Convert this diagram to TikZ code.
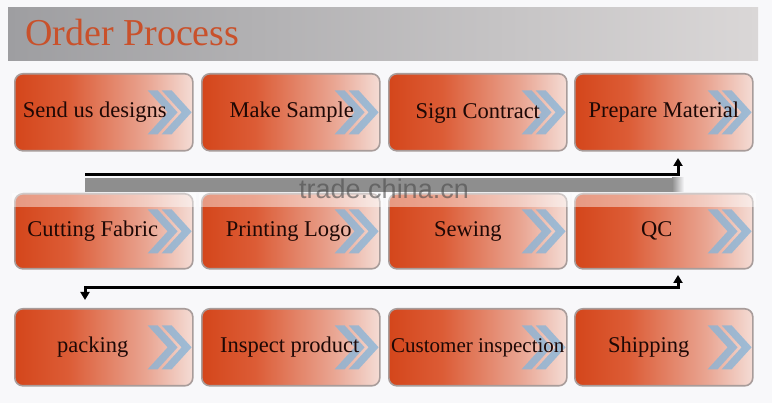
\documentclass[tikz,border=0pt]{standalone}
\usepackage{fontspec}
\setmainfont{Liberation Serif}
\newfontfamily\wmfont{Liberation Sans}
\usetikzlibrary{arrows.meta}
\definecolor{bgc}{HTML}{F8F8FA}
\definecolor{oa}{HTML}{D4461B}
\definecolor{ob}{HTML}{DC5C36}
\definecolor{oc}{HTML}{E9A592}
\definecolor{od}{HTML}{F4DCD5}
\definecolor{ga}{HTML}{9E9EA1}
\definecolor{gb}{HTML}{DAD7D7}
\definecolor{titlec}{HTML}{C9512B}
\definecolor{txtc}{HTML}{1E0805}
\definecolor{chevc}{HTML}{8AB4D6}
\definecolor{boxborder}{HTML}{A89C9A}
\definecolor{bandc}{HTML}{8E8E8E}
\definecolor{wmc}{HTML}{4A4A4A}
\pgfdeclarehorizontalshading{boxshade}{100bp}{color(0bp)=(oa); color(25bp)=(oa); color(40bp)=(ob); color(62bp)=(oc); color(75bp)=(od); color(100bp)=(od)}
\tikzset{
  stepbox/.style={rounded corners=8pt, draw=boxborder, line width=1.6pt, shading=boxshade,
    minimum width=178pt, minimum height=77pt, anchor=north west, inner sep=0pt},
  lbl/.style={text=txtc, font=\fontsize{22.5}{25}\selectfont, inner sep=0pt},
  conn/.style={line width=3pt, black},
  chevfill/.style={fill=chevc, fill opacity=0.8},
  fadeband/.style={fill=white, fill opacity=0.45, draw=none}
}
\newcommand\chevpair[1]{%
  \begin{scope}[shift={(#1.east)}]
    \fill[chevfill] (-46,-22) -- ++(10,0) -- ++(20,22) -- ++(-20,22) -- ++(-10,0) -- ++(20,-22) -- cycle;
    \fill[chevfill] (-32,-22) -- ++(10,0) -- ++(20,22) -- ++(-20,22) -- ++(-10,0) -- ++(20,-22) -- cycle;
  \end{scope}}
\begin{document}
\begin{tikzpicture}[x=1pt,y=-1pt]
\useasboundingbox (0,0) rectangle (772,403);
\fill[bgc] (0,0) rectangle (772,403);
% title bar
\shade[left color=ga, right color=gb, draw=none] (8,8) rectangle (758,61);
\node[anchor=base west, text=titlec, font=\fontsize{38}{40}\selectfont, inner sep=0pt] (title) at (25,46) {Order Process};
% boxes
\foreach \n/\x/\y/\h in {b1/14/73/77, b2/201/73/77, b3/388/73/77, b4/574/73/77,
                          b5/14/193/75, b6/201/193/75, b7/388/193/75, b8/574/193/75,
                          b9/14/308/77, b10/201/308/77, b11/388/308/77, b12/574/308/77}{
  \node[stepbox, minimum height=\h pt] (\n) at (\x,\y) {};
}
\foreach \n in {b1,b2,b3,b4,b5,b6,b7,b8,b9,b10,b11,b12}{\chevpair{\n}}
% washed top of row 2
\foreach \n in {b5,b6,b7,b8}{
  \fill[fadeband] ([xshift=-2pt]\n.north west) rectangle ([xshift=2pt,yshift=-14pt]\n.north east);
}
% labels
\node[lbl] (t1) at ([xshift=-9pt]b1.center) {Send us designs};
\node[lbl] (t2) at ([xshift=1pt]b2.center) {Make Sample};
\node[lbl] (t3) at ([xshift=0pt,yshift=-1pt]b3.center) {Sign Contract};
\node[lbl] (t4) at ([xshift=0pt]b4.center) {Prepare Material};
\node[lbl] (t5) at ([xshift=-11pt]b5.center) {Cutting Fabric};
\node[lbl] (t6) at ([xshift=-2pt]b6.center) {Printing Logo};
\node[lbl] (t7) at ([xshift=-10pt]b7.center) {Sewing};
\node[lbl] (t8) at ([xshift=-7pt]b8.center) {QC};
\node[lbl] (t9) at ([xshift=-11pt]b9.center) {packing};
\node[lbl] (t10) at ([xshift=-1pt]b10.center) {Inspect product};
\node[lbl, font=\fontsize{21}{24}\selectfont] (t11) at ([xshift=0pt]b11.center) {Customer inspection};
\node[lbl] (t12) at ([xshift=-15pt]b12.center) {Shipping};
% gray band under first connector
\fill[bandc] (85,178) rectangle (672,192);
\shade[left color=bandc, right color=bgc, draw=none] (672,178) rectangle (684,192);
% watermark
\node[anchor=base west, text=wmc, text opacity=0.6, font=\wmfont\fontsize{27}{30}\selectfont, inner sep=0pt] (wm) at (299,199) {trade.china.cn};
% connectors
\coordinate (p1) at (85,175);
\coordinate (p2) at (678,158);
\coordinate (p3) at (678,275);
\coordinate (p4) at (85,300);
\draw[conn, -{Triangle[width=9pt,length=8pt]}] (p1) -| (p2);
\draw[conn, {Triangle[width=9pt,length=8pt]}-{Triangle[width=9pt,length=8pt]}] (p3) -- ++(0,13) -| (p4);
\end{tikzpicture}
\end{document}
